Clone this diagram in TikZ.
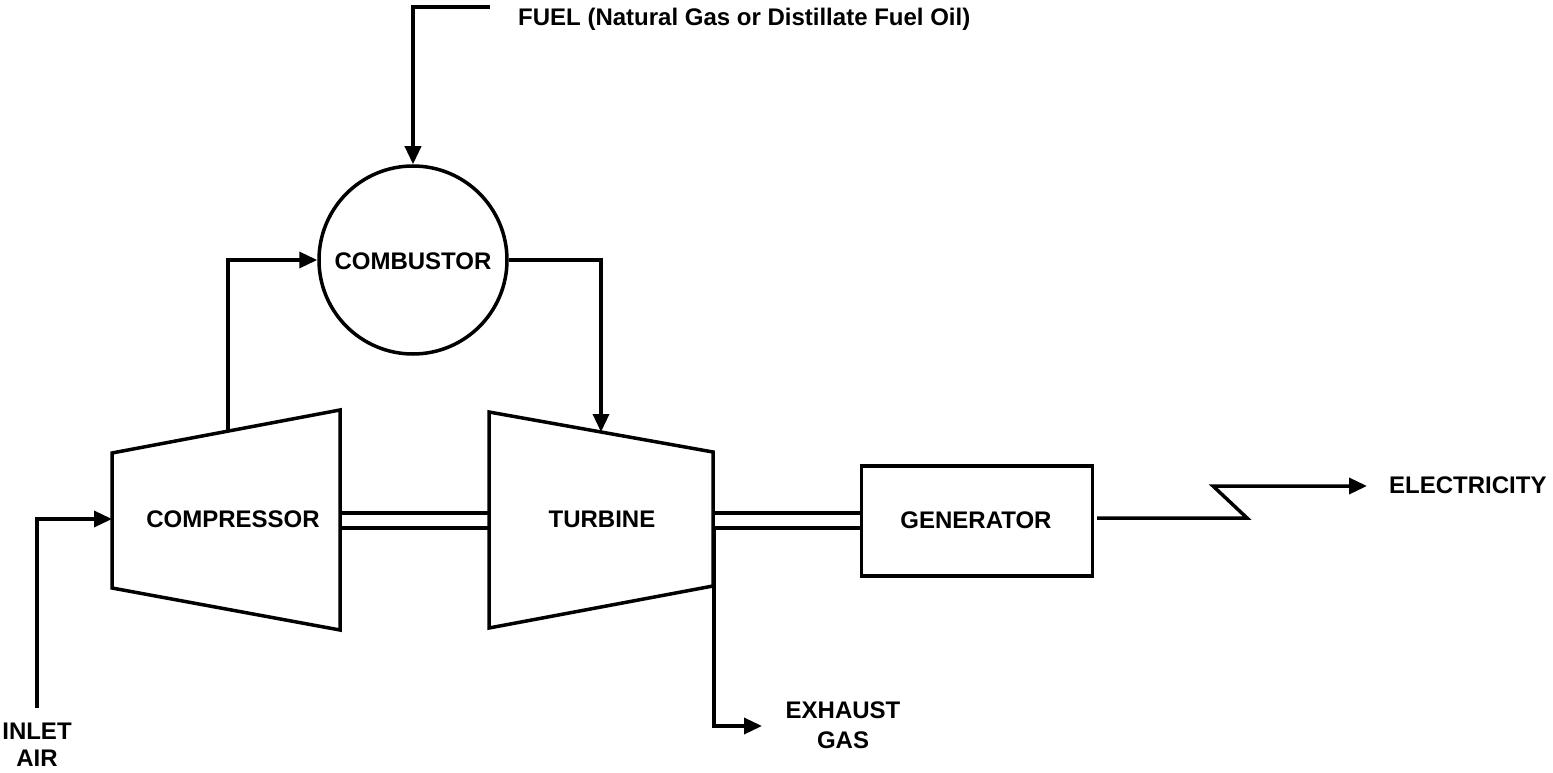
\documentclass[tikz,border=0pt]{standalone}
\usepackage{fontspec}
\setmainfont{Liberation Sans}
\usetikzlibrary{arrows.meta}
\begin{document}
\begin{tikzpicture}[x=1pt,y=-1pt,
  line/.style={line width=3.5pt, line join=miter},
  flow/.style={line, -{Triangle[length=18pt,width=16pt]}},
  lbl/.style={font=\bfseries\fontsize{24}{28}\selectfont, inner sep=0pt},
  shaft/.style={line width=3.5pt}]
\useasboundingbox (0,0) rectangle (1553,773);
% compressor
\coordinate (c1) at (112,453); \coordinate (c2) at (340,410);
\coordinate (c3) at (340,630); \coordinate (c4) at (112,588);
\draw[line] (c1) -- (c2) -- (c3) -- (c4) -- cycle;
\coordinate (ctop) at (228,431);
\coordinate (cin) at (112,519);
\node[lbl] (comp) at (233,519) {COMPRESSOR};
% turbine
\coordinate (t1) at (489,412); \coordinate (t2) at (713,452);
\coordinate (t3) at (713,586); \coordinate (t4) at (489,628);
\draw[line] (t1) -- (t2) -- (t3) -- (t4) -- cycle;
\coordinate (ttop) at (601,432);
\node[lbl] (turb) at (602,519) {TURBINE};
% combustor
\node[draw, line, circle, minimum size=188pt, inner sep=0pt] (comb) at (413,260) {};
\node[lbl] (combt) at (413,261) {COMBUSTOR};
% generator
\node[draw, line, rectangle, minimum width=231pt, minimum height=110pt] (gen) at (977,521) {};
\node[lbl] (gent) at (976,520) {GENERATOR};
% shafts
\draw[shaft] (340,513) -- (489,513);
\draw[shaft] (340,528) -- (489,528);
\draw[shaft] (713,513) -- (gen.west |- 0,513);
\draw[shaft] (713,528) -- (gen.west |- 0,528);
% fuel
\coordinate (f0) at (490,7);
\coordinate (f1) at (413,7);
\draw[flow] (f0) -- (f1) -- (comb.north);
\node[lbl, anchor=west] (fuel) at (518,19) {FUEL (Natural Gas or Distillate Fuel Oil)};
% compressor -> combustor
\draw[flow] (ctop) -- (ctop |- comb.west) -- (comb.west);
% combustor -> turbine
\draw[flow] (comb.east) -- (ttop |- comb.east) -- (ttop);
% inlet air
\node[lbl, align=center, font=\bfseries\fontsize{24}{27}\selectfont] (inlet) at (37,745) {INLET\\AIR};
\coordinate (a0) at (37,708);
\draw[flow] (a0) -- (a0 |- cin) -- (cin);
% exhaust
\coordinate (e0) at (714,528);
\coordinate (e1) at (714,726);
\coordinate (e2) at (762,726);
\draw[flow] (e0) -- (e1) -- (e2);
\node[lbl, align=center] (exh) at (843,725) {EXHAUST\\[2pt]GAS};
% electricity
\coordinate (z0) at (1097,518);
\coordinate (z1) at (1247,518);
\coordinate (z2) at (1213,486);
\coordinate (z3) at (1367,486);
\draw[flow] (z0) -- (z1) -- (z2) -- (z3);
\node[lbl, anchor=west] (elec) at (1389,485) {ELECTRICITY};
\end{tikzpicture}
\end{document}
